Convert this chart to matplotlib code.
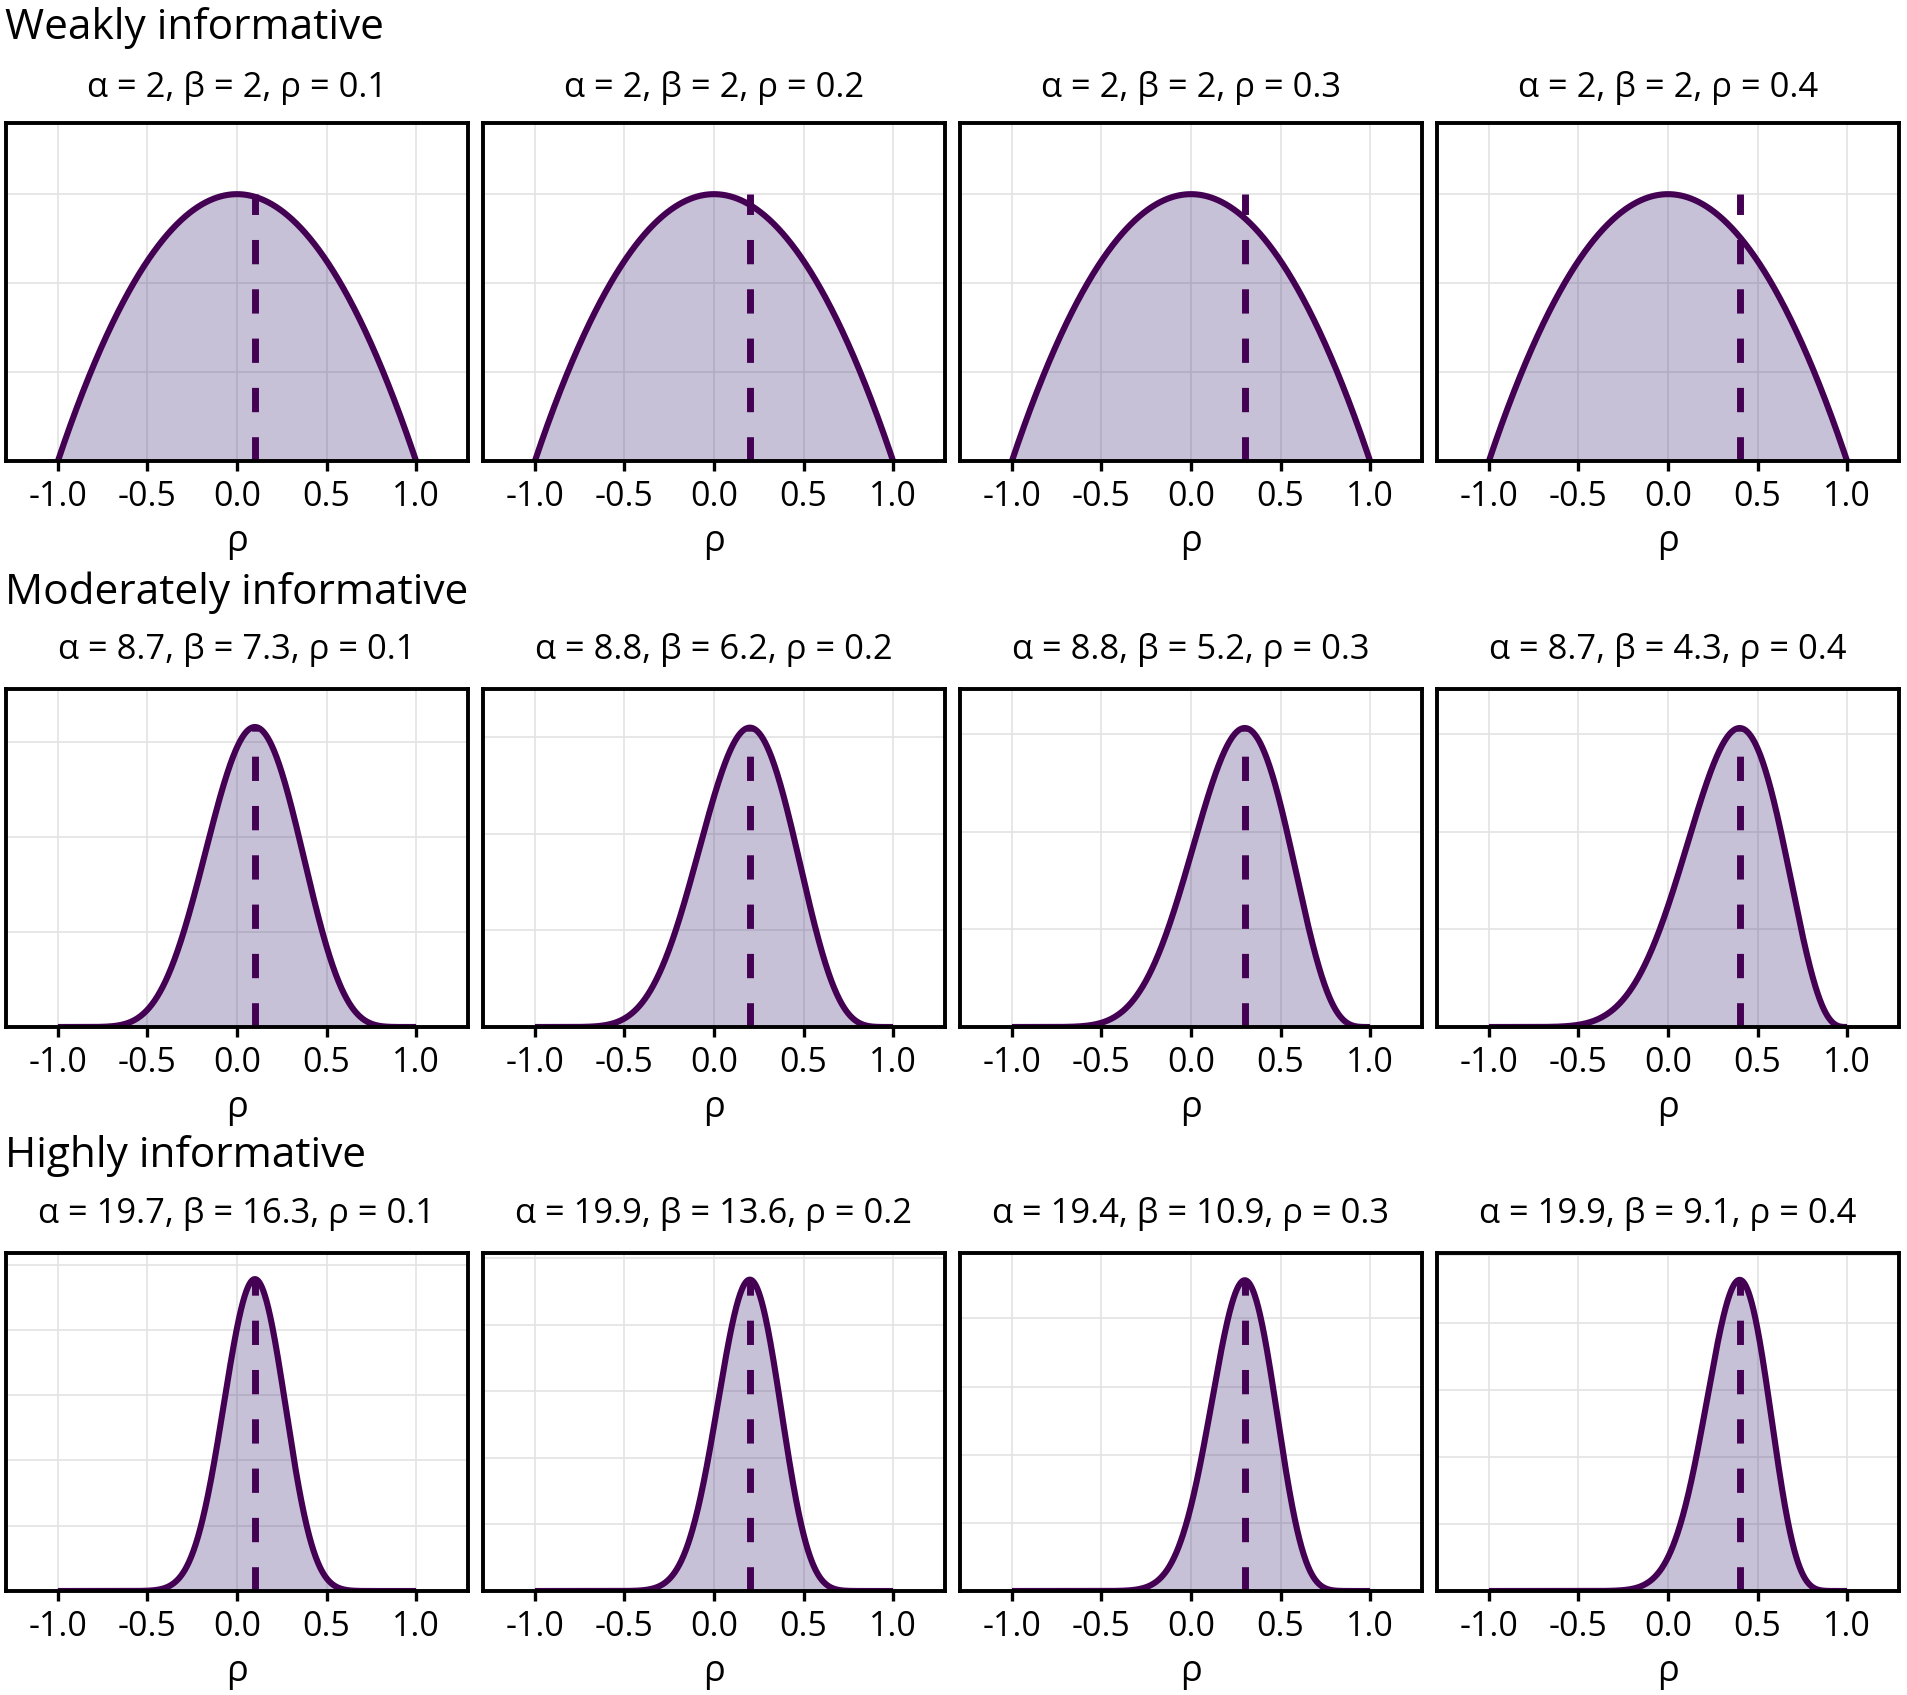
import math
import numpy as np
import matplotlib
matplotlib.use("Agg")
import matplotlib.pyplot as plt
from matplotlib.ticker import MultipleLocator

plt.rcParams['font.family'] = ['Open Sans', 'DejaVu Sans']

# prior settings shown in the panel titles
row_titles = ["Weakly informative", "Moderately informative", "Highly informative"]
rho_values = [0.1, 0.2, 0.3, 0.4]
alphas = [[2, 2, 2, 2],
          [8.7, 8.8, 8.8, 8.7],
          [19.7, 19.9, 19.4, 19.9]]
betas = [[2, 2, 2, 2],
         [7.3, 6.2, 5.2, 4.3],
         [16.3, 13.6, 10.9, 9.1]]
alpha_labels = [["2", "2", "2", "2"],
                ["8.7", "8.8", "8.8", "8.7"],
                ["19.7", "19.9", "19.4", "19.9"]]
beta_labels = [["2", "2", "2", "2"],
               ["7.3", "6.2", "5.2", "4.3"],
               ["16.3", "13.6", "10.9", "9.1"]]
x_ticks = [-1.0, -0.5, 0.0, 0.5, 1.0]
x_tick_labels = ["-1.0", "-0.5", "0.0", "0.5", "1.0"]
y_grid_step = [0.25, 0.5, 0.5]

line_col = "#440154"
fill_col = "#46337e"


def rho_density(r, a, b):
    # scaled beta on [-1, 1]
    x = (r + 1) / 2
    x = np.clip(x, 1e-12, 1 - 1e-12)
    logc = math.lgamma(a + b) - math.lgamma(a) - math.lgamma(b)
    return 0.5 * np.exp(logc + (a - 1) * np.log(x) + (b - 1) * np.log(1 - x))


W, H = 1908, 1695
fig = plt.figure(figsize=(W / 100, H / 100), dpi=100)

col_left = [6, 483, 960, 1437]
row_top = [123, 689, 1253]
pw, ph = 462, 338
title_y = [28, 593, 1156]
sub_y = [88, 650, 1214]

r = np.linspace(-1, 1, 801)

for i in range(3):
    fig.text(5 / W, 1 - title_y[i] / H, row_titles[i], fontsize=30.5,
             ha="left", va="center")
    for j in range(4):
        a = alphas[i][j]
        b = betas[i][j]
        rho = rho_values[j]
        ax = fig.add_axes([col_left[j] / W, 1 - (row_top[i] + ph) / H, pw / W, ph / H])
        d = rho_density(r, a, b)
        peak = d.max()
        ax.set_axisbelow(True)
        ax.grid(True, color="#e3e3e3", linewidth=1.2)
        ax.fill_between(r, 0, d, color=fill_col, alpha=0.3, linewidth=0)
        ax.plot(r, d, color=line_col, linewidth=4.4, solid_capstyle="butt")
        ax.plot([rho, rho], [0, peak], color=line_col, linewidth=5.0,
                linestyle=(0, (3.5, 3.6)), dash_capstyle="butt")
        ax.set_xlim(-1.29, 1.29)
        ax.set_ylim(0, peak + 0.2)
        ax.set_xticks(x_ticks)
        ax.set_xticklabels(x_tick_labels)
        ax.yaxis.set_major_locator(MultipleLocator(y_grid_step[i]))
        ax.tick_params(axis="x", length=7, width=2.4, labelsize=24.4, pad=7, color="black")
        ax.tick_params(axis="y", length=0, labelleft=False)
        for s in ax.spines.values():
            s.set_linewidth(2.8)
            s.set_color("black")
        ax.set_xlabel("ρ", fontsize=26, labelpad=7)
        fig.text((col_left[j] + pw / 2) / W, 1 - sub_y[i] / H,
                 "α = %s, β = %s, ρ = %s" % (alpha_labels[i][j], beta_labels[i][j], rho),
                 fontsize=24.8, ha="center", va="center")

fig.savefig("out.png", dpi=100, facecolor="white")
